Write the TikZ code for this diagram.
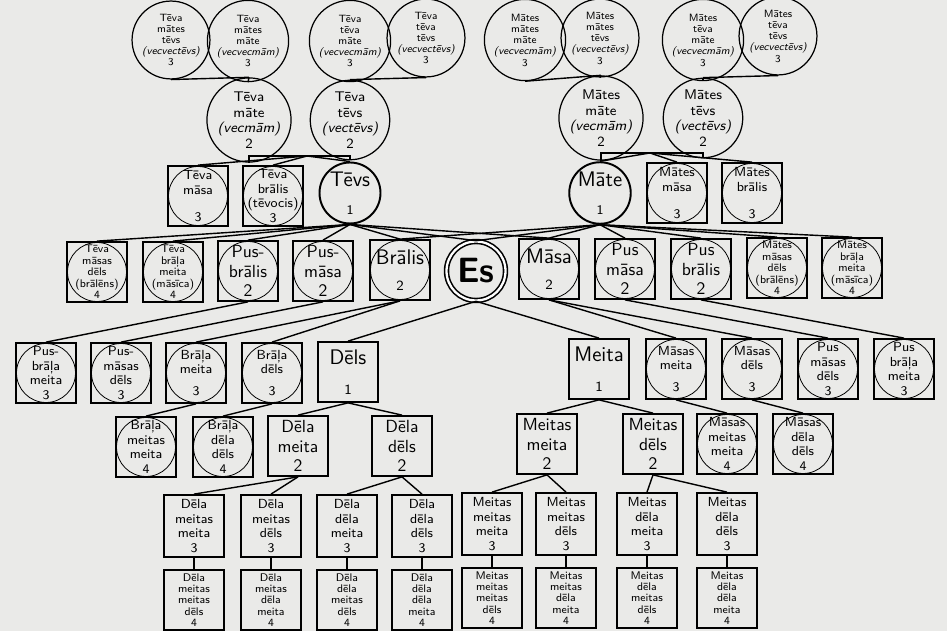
\documentclass[tikz,border=0pt]{standalone}
\usepackage{tikz}
\renewcommand{\familydefault}{\sfdefault}
\definecolor{paper}{RGB}{234,234,232}

\tikzset{
  lnk/.style={line width=0.8pt},
  anc/.style={circle, draw, line width=0.7pt, minimum size=1.18cm, inner sep=0pt, align=center, font=\fontsize{6}{6.4}\selectfont},
  anctwo/.style={anc, minimum size=1.28cm, font=\fontsize{8}{8.8}\selectfont},
  parent/.style={circle, draw, line width=1.1pt, minimum size=1.22cm, inner sep=0pt, align=center, font=\fontsize{12}{13}\selectfont},
  ego/.style={circle, draw, line width=0.9pt, double, double distance=1.3pt, minimum size=1.18cm, inner sep=0pt, font=\bfseries\fontsize{20}{20}\selectfont},
  kin/.style={rectangle, draw, line width=1pt, minimum width=1.2cm, minimum height=1.2cm, inner sep=0pt, align=center, font=\fontsize{7.5}{8.3}\selectfont},
  kinc/.style={kin, path picture={\draw[line width=0.45pt] (path picture bounding box.center) circle[radius=0.59cm];}},
  tinytext/.style={font=\fontsize{6.3}{6.5}\selectfont},
  bigtext/.style={font=\fontsize{10}{11}\selectfont},
  hugetext/.style={font=\fontsize{12}{13}\selectfont},
  tall/.style={minimum height=1.24cm},
}

\begin{document}
\begin{tikzpicture}[x=0.02cm, y=-0.02cm]

  \fill[paper] (0,0) rectangle (947,631);
  \useasboundingbox (0,0) rectangle (947,631);

  % Great-grandparents
  \node[anc] (tmt) at (171,40) {Tēva\\mātes\\tēvs\\\textit{(vecvectēvs)}\\3};
  \node[anc] (tmm) at (248,41) {Tēva\\mātes\\māte\\\textit{(vecvecmām)}\\3};
  \node[anc] (ttm) at (350,41) {Tēva\\tēva\\māte\\\textit{(vecvecmām)}\\3};
  \node[anc] (ttt) at (426,38) {Tēva\\tēva\\tēvs\\\textit{(vecvectēvs)}\\3};
  \node[anc] (mmm) at (525,40) {Mātes\\mātes\\māte\\\textit{(vecvecmām)}\\3};
  \node[anc] (mmt) at (600,38) {Mātes\\mātes\\tēvs\\\textit{(vecvectēvs)}\\3};
  \node[anc] (mtm) at (703,40) {Mātes\\tēva\\māte\\\textit{(vecvecmām)}\\3};
  \node[anc] (mtt) at (778,36) {Mātes\\tēva\\tēvs\\\textit{(vecvectēvs)}\\3};

  % Grandparents
  \node[anctwo] (tm) at (249,120) {Tēva\\māte\\\textit{(vecmām)}\\2};
  \node[anctwo] (tt) at (350,120) {Tēva\\tēvs\\\textit{(vectēvs)}\\2};
  \node[anctwo] (mm) at (601,118) {Mātes\\māte\\\textit{(vecmām)}\\2};
  \node[anctwo] (mt) at (703,118) {Mātes\\tēvs\\\textit{(vectēvs)}\\2};
  \coordinate (tfan) at (307,156);
  \coordinate (mfan) at (650,153);

  % Parents, aunts and uncles
  \node[kinc] (tmasa) at (198,196) {Tēva\\māsa\\[7pt]3};
  \node[kinc] (tbral) at (273,196) {Tēva\\brālis\\(tēvocis)\\3};
  \node[parent] (tevs) at (350,193) {Tēvs\\[3pt]\fontsize{7.5}{7.5}\selectfont 1};
  \node[parent] (mate) at (600,193) {Māte\\[3pt]\fontsize{7.5}{7.5}\selectfont 1};
  \node[kinc] (mmasa) at (677,193) {Mātes\\māsa\\[7pt]3};
  \node[kinc] (mbral) at (752,193) {Mātes\\brālis\\[7pt]3};

  % Siblings and cousins
  \node[kinc, tinytext] (tmd) at (97,272) {Tēva\\māsas\\dēls\\(brālēns)\\4};
  \node[kinc, tinytext] (tbm) at (173,272) {Tēva\\brāļa\\meita\\(māsīca)\\4};
  \node[kinc, bigtext] (pbl) at (248,271) {Pus-\\brālis\\2};
  \node[kinc, bigtext] (pml) at (323,271) {Pus-\\māsa\\2};
  \node[kinc, hugetext] (bralis) at (400,270) {Brālis\\[2pt]\fontsize{8}{8}\selectfont 2};
  \node[ego] (es) at (476,271) {Es};
  \node[kinc, hugetext] (masa) at (549,269) {Māsa\\[2pt]\fontsize{8}{8}\selectfont 2};
  \node[kinc, bigtext] (pmr) at (625,269) {Pus\\māsa\\2};
  \node[kinc, bigtext] (pbr) at (701,269) {Pus\\brālis\\2};
  \node[kinc, tinytext] (mmd) at (777,268) {Mātes\\māsas\\dēls\\(brālēns)\\4};
  \node[kinc, tinytext] (mbm) at (852,268) {Mātes\\brāļa\\meita\\(māsīca)\\4};

  % Children, nieces and nephews
  \node[kinc] (pbm) at (46,373) {Pus-\\brāļa\\meita\\3};
  \node[kinc] (pmd) at (121,373) {Pus-\\māsas\\dēls\\3};
  \node[kinc] (bm) at (196,373) {Brāļa\\meita\\[4pt]3};
  \node[kinc] (bd) at (272,373) {Brāļa\\dēls\\[4pt]3};
  \node[kin, hugetext] (dels) at (348,372) {Dēls\\[4pt]\fontsize{8}{8}\selectfont 1};
  \node[kin, hugetext] (meita) at (599,369) {Meita\\[4pt]\fontsize{8}{8}\selectfont 1};
  \node[kinc] (msm) at (676,369) {Māsas\\meita\\[4pt]3};
  \node[kinc] (msd) at (752,369) {Māsas\\dēls\\[4pt]3};
  \node[kinc] (pmsd) at (828,369) {Pus\\māsas\\dēls\\3};
  \node[kinc] (pbrm) at (904,369) {Pus\\brāļa\\meita\\3};

  % Grandchildren
  \node[kinc] (bmm) at (146,447) {Brāļa\\meitas\\meita\\4};
  \node[kinc] (bdd) at (223,447) {Brāļa\\dēla\\dēls\\4};
  \node[kin, bigtext] (dm) at (298,446) {Dēla\\meita\\2};
  \node[kin, bigtext] (dd) at (402,446) {Dēla\\dēls\\2};
  \node[kin, bigtext] (mem) at (547,444) {Meitas\\meita\\2};
  \node[kin, bigtext] (med) at (653,444) {Meitas\\dēls\\2};
  \node[kinc] (msmm) at (727,444) {Māsas\\meitas\\meita\\4};
  \node[kinc] (msdd) at (803,444) {Māsas\\dēla\\dēls\\4};

  % Great-grandchildren
  \node[kin, tall] (dmm) at (194,526) {Dēla\\meitas\\meita\\3};
  \node[kin, tall] (dmd) at (271,526) {Dēla\\meitas\\dēls\\3};
  \node[kin, tall] (ddm) at (347,526) {Dēla\\dēla\\meita\\3};
  \node[kin, tall] (ddd) at (422,526) {Dēla\\dēla\\dēls\\3};
  \node[kin, tall] (memm) at (492,524) {Meitas\\meitas\\meita\\3};
  \node[kin, tall] (memd) at (566,524) {Meitas\\meitas\\dēls\\3};
  \node[kin, tall] (medm) at (647,524) {Meitas\\dēla\\meita\\3};
  \node[kin, tall] (medd) at (727,524) {Meitas\\dēla\\dēls\\3};

  % Great-great-grandchildren
  \node[kin, tinytext] (dmmd) at (194,600) {Dēla\\meitas\\meitas\\dēls\\4};
  \node[kin, tinytext] (dmdm) at (271,600) {Dēla\\meitas\\dēla\\meita\\4};
  \node[kin, tinytext] (ddmd) at (347,600) {Dēla\\dēla\\meitas\\dēls\\4};
  \node[kin, tinytext] (dddm) at (422,600) {Dēla\\dēla\\dēla\\meita\\4};
  \node[kin, tinytext] (memmd) at (492,598) {Meitas\\meitas\\meitas\\dēls\\4};
  \node[kin, tinytext] (memdm) at (566,598) {Meitas\\meitas\\dēla\\meita\\4};
  \node[kin, tinytext] (medmd) at (647,598) {Meitas\\dēla\\meitas\\dēls\\4};
  \node[kin, tinytext] (meddm) at (727,598) {Meitas\\dēla\\dēla\\meita\\4};

  % Ancestors
  \draw[lnk] (tmt.south) to (tm.north);
  \draw[lnk] (tmm.south) to (tm.north);
  \draw[lnk] (ttm.south) to (tt.north);
  \draw[lnk] (ttt.south) to (tt.north);
  \draw[lnk] (mmm.south) to (mm.north);
  \draw[lnk] (mmt.south) to (mm.north);
  \draw[lnk] (mtm.south) to (mt.north);
  \draw[lnk] (mtt.south) to (mt.north);
  \draw[lnk] (tm.south) |- (tfan) -| (tt.south);
  \draw[lnk] (mm.south) |- (mfan) -| (mt.south);
  \draw[lnk] (tfan) to (tmasa.north);
  \draw[lnk] (tfan) to (tbral.north);
  \draw[lnk] (tfan) to (tevs.north);
  \draw[lnk] (mfan) to (mate.north);
  \draw[lnk] (mfan) to (mmasa.north);
  \draw[lnk] (mfan) to (mbral.north);

  % From the parents
  \draw[lnk] (tevs.south) to (tmd.north);
  \draw[lnk] (tevs.south) to (tbm.north);
  \draw[lnk] (tevs.south) to (pbl.north);
  \draw[lnk] (tevs.south) to (pml.north);
  \draw[lnk] (tevs.south) to (bralis.north);
  \draw[lnk] (tevs.south) to (es.north);
  \draw[lnk] (tevs.south) to (masa.north);
  \draw[lnk] (mate.south) to (bralis.north);
  \draw[lnk] (mate.south) to (es.north);
  \draw[lnk] (mate.south) to (masa.north);
  \draw[lnk] (mate.south) to (pmr.north);
  \draw[lnk] (mate.south) to (pbr.north);
  \draw[lnk] (mate.south) to (mmd.north);
  \draw[lnk] (mate.south) to (mbm.north);

  % Next generation
  \draw[lnk] (pbl.south) to (pbm.north);
  \draw[lnk] (pml.south) to (pmd.north);
  \draw[lnk] (bralis.south) to (bm.north);
  \draw[lnk] (bralis.south) to (bd.north);
  \draw[lnk] (es.south) to (dels.north);
  \draw[lnk] (es.south) to (meita.north);
  \draw[lnk] (masa.south) to (msm.north);
  \draw[lnk] (masa.south) to (msd.north);
  \draw[lnk] (pmr.south) to (pmsd.north);
  \draw[lnk] (pbr.south) to (pbrm.north);

  \draw[lnk] (bm.south) to (bmm.north);
  \draw[lnk] (bd.south) to (bdd.north);
  \draw[lnk] (dels.south) to (dm.north);
  \draw[lnk] (dels.south) to (dd.north);
  \draw[lnk] (meita.south) to (mem.north);
  \draw[lnk] (meita.south) to (med.north);
  \draw[lnk] (msm.south) to (msmm.north);
  \draw[lnk] (msd.south) to (msdd.north);

  \draw[lnk] (dm.south) to (dmm.north);
  \draw[lnk] (dm.south) to (dmd.north);
  \draw[lnk] (dd.south) to (ddm.north);
  \draw[lnk] (dd.south) to (ddd.north);
  \draw[lnk] (mem.south) to (memm.north);
  \draw[lnk] (mem.south) to (memd.north);
  \draw[lnk] (med.south) to (medm.north);
  \draw[lnk] (med.south) to (medd.north);

  \draw[lnk] (dmm.south) to (dmmd.north);
  \draw[lnk] (dmd.south) to (dmdm.north);
  \draw[lnk] (ddm.south) to (ddmd.north);
  \draw[lnk] (ddd.south) to (dddm.north);
  \draw[lnk] (memm.south) to (memmd.north);
  \draw[lnk] (memd.south) to (memdm.north);
  \draw[lnk] (medm.south) to (medmd.north);
  \draw[lnk] (medd.south) to (meddm.north);
\end{tikzpicture}
\end{document}
